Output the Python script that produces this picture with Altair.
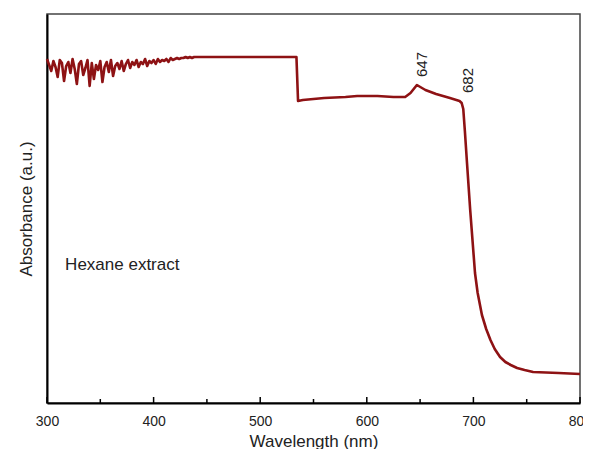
import altair as alt
import pandas as pd

# Wavelength (nm) and absorbance (arbitrary units)
wavelength = [300, 302, 304, 306, 308, 310, 312, 314, 316, 318, 320, 322, 324, 326, 328,
              330, 332, 334, 336, 338, 340, 342, 344, 346, 348, 350, 352, 354, 356, 358,
              360, 362, 364, 366, 368, 370, 372, 374, 376, 378, 380, 382, 384, 386, 388,
              390, 392, 394, 396, 398, 400, 402, 404, 406, 408, 410, 412, 414, 416, 418,
              420, 422, 424, 426, 428, 430, 432, 434, 436, 438, 440, 450, 480, 510, 534, 535.5,
              540, 560, 580, 591, 610, 625, 636, 641, 647, 655, 665, 678, 687, 689,
              690.5, 692, 694, 697, 701.5, 704, 708, 712, 716, 720, 725, 730, 735, 741,
              748, 756, 780, 800]
absorbance = [344, 338, 332, 342, 336, 326, 343, 340, 322, 337, 341, 330, 344, 334, 319,
              339, 342, 328, 335, 343, 317,
              340, 324, 338, 333, 342, 321, 336, 341, 331, 343, 327, 337, 340, 334, 342,
              332, 339, 343, 335, 341,
              338, 343, 336, 341, 339, 344, 337, 342, 340, 343, 339, 344, 341, 343, 342,
              344, 341, 345, 343, 344,
              345, 344, 345, 345, 346, 345, 346, 345, 346, 346,
              346, 346, 346, 346, 302,
              303, 305, 306, 307, 307, 306, 306, 310, 318, 313, 309, 305, 302, 300,
              294, 272, 240, 193, 130, 110, 88, 74, 63, 54, 46, 41, 38, 35,
              33, 31, 30, 29]

major_ticks = [300, 400, 500, 600, 700, 800]
minor_ticks = [350, 450, 550, 650, 750]

peak_labels = ["647", "682"]
peak_x = [651.8, 695.0]
peak_y = [326, 310]

note_text = ["Hexane extract"]
note_x = [317]
note_y = [133]

W, H = 533, 389
RED = "#8e1214"
FONT = "Liberation Sans"

spec = pd.DataFrame({"wl": wavelength, "ab": absorbance})
xscale = alt.Scale(domain=[300, 800], nice=False, zero=False)
yscale = alt.Scale(domain=[0, 389], nice=False, zero=False)

line = alt.Chart(spec).mark_line(color=RED, strokeWidth=2.6, strokeJoin="round").encode(
    x=alt.X("wl:Q", scale=xscale,
            axis=alt.Axis(title="Wavelength (nm)", values=major_ticks, format="d",
                          ticks=False, grid=False, labelPadding=11, labelFontSize=14,
                          labelFont=FONT, labelColor="#222", titleFont=FONT,
                          titleFontSize=17, titleFontWeight="normal", titleColor="#222",
                          titleY=43, titleBaseline="alphabetic",
                          domainColor="#000", domainWidth=2, labelFlush=False)),
    y=alt.Y("ab:Q", scale=yscale,
            axis=alt.Axis(title="Absorbance (a.u.)", labels=False, ticks=False, grid=False,
                          titleFont=FONT, titleFontSize=17, titleFontWeight="normal",
                          titleColor="#222", titlePadding=12, domainColor="#000",
                          domainWidth=2)),
)

major = alt.Chart(pd.DataFrame({"t": major_ticks})).mark_rule(color="#000", strokeWidth=1.5).encode(
    x=alt.X("t:Q", scale=xscale), y=alt.value(H), y2=alt.value(H - 6))
minor = alt.Chart(pd.DataFrame({"t": minor_ticks})).mark_rule(color="#000", strokeWidth=1.5).encode(
    x=alt.X("t:Q", scale=xscale), y=alt.value(H), y2=alt.value(H - 4))

peaks = alt.Chart(pd.DataFrame({"x": peak_x, "y": peak_y, "label": peak_labels})).mark_text(
    angle=270, align="left", baseline="middle", font=FONT, fontSize=15, color="#222").encode(
    x=alt.X("x:Q", scale=xscale), y=alt.Y("y:Q", scale=yscale), text="label:N")

note = alt.Chart(pd.DataFrame({"x": note_x, "y": note_y, "label": note_text})).mark_text(
    align="left", baseline="alphabetic", font=FONT, fontSize=17, color="#222").encode(
    x=alt.X("x:Q", scale=xscale), y=alt.Y("y:Q", scale=yscale), text="label:N")

chart = alt.layer(line, minor, major, peaks, note).properties(
    width=W, height=H,
    padding={"left": 39, "top": 6, "right": 3, "bottom": 46},
    autosize=alt.AutoSizeParams(type="none"),
    background="white",
).configure_view(stroke="#444", strokeWidth=1.5)

chart.save("out.html", embed_options={"renderer": "svg", "actions": False})
